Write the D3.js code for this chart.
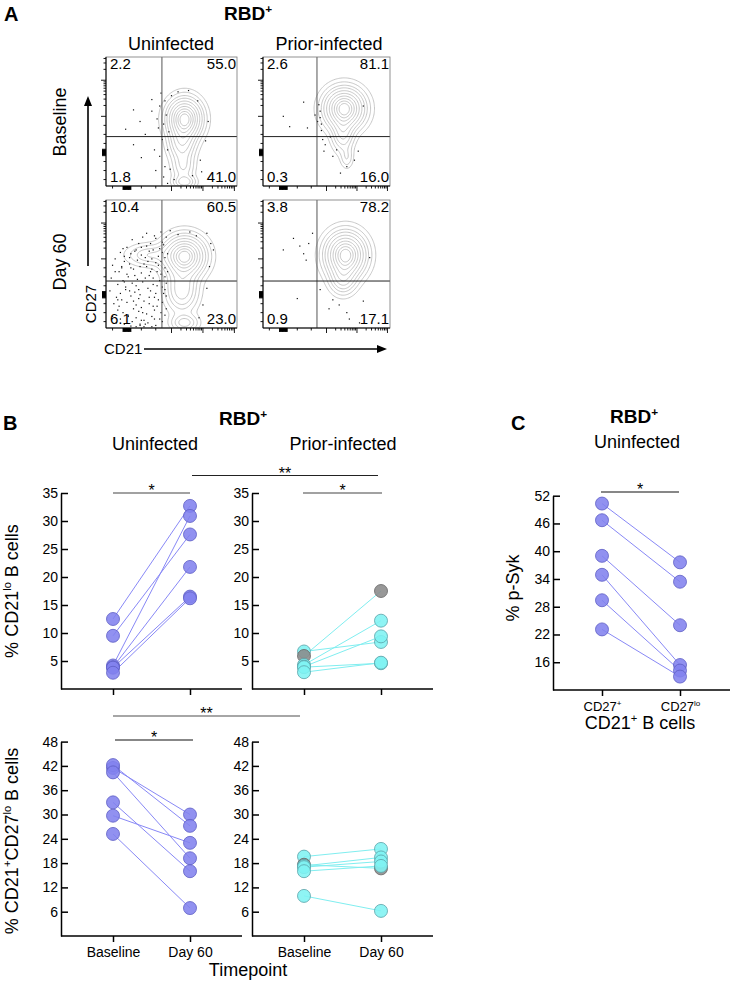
<!DOCTYPE html>
<html><head><meta charset="utf-8">
<script src="https://cdn.jsdelivr.net/npm/d3@7"></script>
<style>body{margin:0;background:#fff}</style>
</head><body><svg id="c" width="731" height="981"></svg>
<script>
// ---------------- DATA ----------------
const timepoints = ["Baseline", "Day 60"];
const subsets = ["CD27+", "CD27lo"];

// Panel B, top row: % CD21lo B cells
const uninfCD21loBase = [12.5, 9.5, 4.2, 3.9, 3.8, 2.9];
const uninfCD21loD60  = [32.7, 27.6, 30.9, 21.8, 16.5, 16.2];
const priorCD21loBase = [6.7, 5.9, 4.3, 4.0, 3.9, 3.0];
const priorCD21loD60  = [8.4, 17.5, 12.2, 9.4, 4.6, 4.7];
const priorCD21loGray = [false, true, false, false, false, false];

// Panel B, bottom row: % CD21+CD27lo B cells
const uninfCD27loBase = [41.5, 42.2, 40.4, 33.0, 29.7, 25.2];
const uninfCD27loD60  = [30.0, 27.2, 19.2, 16.0, 23.0, 6.9];
const priorCD27loBase = [19.6, 17.6, 17.3, 17.0, 16.0, 9.9];
const priorCD27loD60  = [21.5, 16.7, 19.4, 18.4, 17.3, 6.2];
const priorCD27loGray = [false, true, false, false, false, false];

// Panel C: % p-Syk
const pSykCD27pos = [50.3, 46.7, 39.0, 34.9, 29.4, 23.1];
const pSykCD27lo  = [37.6, 33.4, 24.0, 15.4, 14.2, 12.9];

// Tick values
const ticksCD21lo = [5, 10, 15, 20, 25, 30, 35];
const ticksCD27lo = [6, 12, 18, 24, 30, 36, 42, 48];
const ticksPSyk   = [16, 22, 28, 34, 40, 46, 52];

// Panel A: quadrant percentages [UL, UR, LL, LR]
const quadUninfBase  = ["2.2", "55.0", "1.8", "41.0"];
const quadPriorBase  = ["2.6", "81.1", "0.3", "16.0"];
const quadUninfD60   = ["10.4", "60.5", "6.1", "23.0"];
const quadPriorD60   = ["3.8", "78.2", "0.9", "17.1"];

// Panel A: density components [cx, cy, sx, sy, weight] (fractions of plot)
const densUninfBase = [[0.60,0.52,0.075,0.09,1.0],[0.58,0.33,0.06,0.08,0.35],[0.59,0.15,0.05,0.07,0.2],[0.60,0.03,0.05,0.03,0.25]];
const densPriorBase = [[0.64,0.60,0.09,0.09,1.0],[0.63,0.40,0.05,0.08,0.3],[0.66,0.22,0.03,0.05,0.12]];
const densUninfD60  = [[0.60,0.56,0.09,0.09,1.0],[0.33,0.57,0.10,0.05,0.2],[0.58,0.30,0.07,0.10,0.4],[0.60,0.04,0.06,0.04,0.25]];
const densPriorD60  = [[0.65,0.57,0.09,0.10,1.0],[0.63,0.38,0.06,0.07,0.3]];
const contourLevels = [0.03,0.07,0.13,0.2,0.3,0.42,0.55,0.68,0.8,0.9];

// Panel A: outlying events [x, y] (fractions of plot)
const dotsUninfBase = [[0.21,0.59],[0.26,0.50],[0.35,0.58],[0.39,0.52],[0.41,0.62],[0.40,0.45],[0.21,0.32],[0.27,0.22],[0.37,0.28],[0.41,0.23],[0.44,0.07],[0.45,0.15],[0.49,0.13],[0.55,0.73],[0.63,0.74],[0.78,0.50],[0.72,0.20],[0.73,0.11],[0.43,0.36],[0.47,0.28],[0.35,0.67],[0.45,0.66],[0.30,0.40],[0.46,0.55],[0.44,0.48],[0.48,0.42],[0.70,0.66],[0.76,0.35],[0.52,0.05],[0.47,0.02],[0.66,0.08],[0.38,0.12],[0.15,0.44],[0.42,0.72],[0.50,0.70]];
const dotsPriorBase = [[0.16,0.54],[0.21,0.46],[0.32,0.65],[0.35,0.45],[0.41,0.55],[0.44,0.63],[0.45,0.58],[0.45,0.53],[0.46,0.48],[0.46,0.43],[0.47,0.36],[0.49,0.32],[0.55,0.23],[0.61,0.10],[0.72,0.20],[0.79,0.62],[0.58,0.28],[0.53,0.38],[0.75,0.27],[0.48,0.27],[0.43,0.50],[0.66,0.15]];
const dotsUninfD60 = [[0.31,0.74],[0.38,0.70],[0.42,0.75],[0.49,0.76],[0.55,0.73],[0.64,0.75],[0.69,0.72],[0.77,0.74],
[0.20,0.69],[0.28,0.71],[0.34,0.66],[0.37,0.72],[0.43,0.67],[0.46,0.71],[0.80,0.66],[0.25,0.66],
[0.16,0.63],[0.23,0.61],[0.31,0.64],[0.33,0.60],[0.41,0.62],[0.44,0.65],[0.82,0.61],[0.27,0.63],
[0.11,0.59],[0.14,0.56],[0.22,0.60],[0.27,0.57],[0.30,0.55],[0.36,0.61],[0.43,0.59],[0.47,0.58],
[0.07,0.54],[0.14,0.52],[0.18,0.55],[0.24,0.53],[0.29,0.50],[0.35,0.54],[0.38,0.51],[0.45,0.55],
[0.05,0.49],[0.12,0.47],[0.18,0.50],[0.21,0.46],[0.31,0.48],[0.35,0.46],[0.40,0.49],[0.45,0.47],[0.79,0.48],
[0.10,0.44],[0.16,0.42],[0.19,0.47],[0.27,0.43],[0.33,0.41],[0.39,0.44],[0.42,0.42],[0.47,0.44],
[0.04,0.39],[0.13,0.37],[0.17,0.40],[0.24,0.38],[0.28,0.36],[0.36,0.39],[0.41,0.37],[0.45,0.40],
[0.09,0.34],[0.15,0.32],[0.20,0.35],[0.23,0.33],[0.32,0.31],[0.36,0.34],[0.43,0.32],[0.46,0.35],
[0.03,0.29],[0.11,0.27],[0.15,0.30],[0.22,0.28],[0.26,0.26],[0.34,0.29],[0.38,0.27],[0.45,0.30],[0.77,0.31],
[0.08,0.24],[0.12,0.22],[0.19,0.25],[0.25,0.23],[0.29,0.21],[0.37,0.24],[0.40,0.22],[0.46,0.25],
[0.06,0.19],[0.10,0.17],[0.16,0.20],[0.23,0.18],[0.27,0.16],[0.33,0.19],[0.39,0.17],[0.43,0.20],[0.74,0.18],
[0.09,0.14],[0.13,0.12],[0.21,0.15],[0.25,0.13],[0.31,0.11],[0.37,0.14],[0.42,0.12],[0.46,0.15],
[0.05,0.09],[0.11,0.07],[0.17,0.10],[0.23,0.08],[0.29,0.06],[0.35,0.09],[0.41,0.07],[0.45,0.10],[0.71,0.08],
[0.08,0.04],[0.14,0.03],[0.20,0.05],[0.26,0.03],[0.32,0.04],[0.38,0.02],[0.43,0.05],
[0.19,0.015],[0.23,0.01],[0.26,0.02],[0.29,0.01],[0.30,0.03],[0.35,0.01],
[0.13,0.62],[0.19,0.58],[0.26,0.48],[0.22,0.41],[0.30,0.39],[0.14,0.36],[0.33,0.24],[0.18,0.29],
[0.28,0.12],[0.21,0.21],[0.36,0.17],[0.12,0.48],[0.40,0.56],[0.32,0.52],[0.07,0.44],[0.44,0.27],
[0.39,0.33],[0.25,0.30],[0.17,0.09],[0.34,0.44],[0.09,0.22],[0.42,0.52],[0.27,0.06],[0.37,0.07]];
const dotsPriorD60 = [[0.24,0.70],[0.39,0.74],[0.16,0.61],[0.32,0.58],[0.34,0.53],[0.29,0.64],[0.27,0.23],[0.55,0.22],[0.66,0.12],[0.68,0.07],[0.79,0.21],[0.76,0.04],[0.52,0.15],[0.60,0.18],[0.45,0.30],[0.84,0.55],[0.36,0.66]];

// Flow axis tick layout (fractions along the axis)
const flowYZero = 0.26, flowYDecades = [0.54, 0.82], flowYDecadeW = 0.28;
const flowXZero = 0.16, flowXDecades = [0.50, 0.74, 0.98], flowXDecadeW = 0.24;

// ---------------- DRAWING ----------------
const FONT = "'Liberation Sans', Arial, Helvetica, sans-serif";
const svg = d3.select("#c");
svg.append("rect").attr("width", 731).attr("height", 981).attr("fill", "#fff");

function richText(parent, x, y, parts, size, opts = {}) {
  const t = parent.append("text")
    .attr("font-family", FONT).attr("font-size", size)
    .attr("text-anchor", opts.anchor || "start")
    .attr("font-weight", opts.weight || "normal")
    .attr("fill", opts.fill || "#000");
  if (opts.rotate) t.attr("transform", `translate(${x},${y}) rotate(${opts.rotate})`);
  else t.attr("x", x).attr("y", y);
  let shifted = 0;
  parts.forEach(p => {
    const part = typeof p === "string" ? { t: p } : p;
    const s = part.sup ? size * 0.62 : size;
    const target = part.sup ? -size * 0.38 : 0;
    const ts = t.append("tspan").text(part.t).attr("font-size", s);
    if (target !== shifted) { ts.attr("dy", target - shifted); shifted = target; }
  });
  return t;
}

// ---------- Panel A ----------
richText(svg, 4, 21, ["A"], 20, { weight: "bold" });
richText(svg, 248, 20, ["RBD", { t: "+", sup: true }], 19, { weight: "bold", anchor: "middle" });
richText(svg, 171, 50, ["Uninfected"], 18, { anchor: "middle" });
richText(svg, 329, 50, ["Prior-infected"], 18, { anchor: "middle" });
richText(svg, 66, 122, ["Baseline"], 18, { anchor: "middle", rotate: -90 });
richText(svg, 66, 262, ["Day 60"], 18, { anchor: "middle", rotate: -90 });
richText(svg, 96, 304, ["CD27"], 15, { anchor: "middle", rotate: -90 });
richText(svg, 104, 354, ["CD21"], 15, {});

// arrows
svg.append("line").attr("x1", 88).attr("y1", 266).attr("x2", 88).attr("y2", 104).attr("stroke", "#000").attr("stroke-width", 1.6);
svg.append("path").attr("d", d3.line()([[88, 96], [84, 106], [92, 106]]) + "Z").attr("fill", "#000");
svg.append("line").attr("x1", 144).attr("y1", 349).attr("x2", 378).attr("y2", 349).attr("stroke", "#000").attr("stroke-width", 1.6);
svg.append("path").attr("d", d3.line()([[387, 349], [377, 345], [377, 353]]) + "Z").attr("fill", "#000");

function yTickList() {
  const l = [];
  [-0.05, -0.035, -0.02, -0.01, 0, 0.01, 0.02, 0.035, 0.05].forEach(d => l.push({ f: flowYZero + d * 0.5, len: 4 }));
  [0.05, 0.12, 0.19, 0.33, 0.40, 0.47].forEach(f => l.push({ f, len: 2.5 }));
  flowYDecades.forEach(d => {
    l.push({ f: d, len: 5 });
    for (let k = 2; k <= 9; k++) { const f = d + flowYDecadeW * Math.log10(k); if (f <= 1) l.push({ f, len: 2.5 }); }
  });
  return l;
}
function xTickList() {
  const l = [];
  [-0.05, -0.04, -0.03, -0.02, -0.01, 0, 0.01, 0.02, 0.03, 0.04, 0.05].forEach(d => l.push({ f: flowXZero + d * 0.6, len: 4 }));
  [0.05, 0.27, 0.38].forEach(f => l.push({ f, len: 2.5 }));
  flowXDecades.forEach(d => {
    l.push({ f: d, len: 5 });
    for (let k = 2; k <= 9; k++) { const f = d + flowXDecadeW * Math.log10(k); if (f <= 1) l.push({ f, len: 2.5 }); }
  });
  return l;
}

let clipN = 0;
function flowPlot(box, gate, quads, dens, dots) {
  const [x0, y0, x1, y1] = box;
  const w = x1 - x0, h = y1 - y0;
  const fx = d3.scaleLinear([0, 1], [x0, x1]);
  const fy = d3.scaleLinear([0, 1], [y1, y0]);
  const g = svg.append("g");
  const id = "clip" + (clipN++);
  g.append("clipPath").attr("id", id).append("rect").attr("x", x0).attr("y", y0).attr("width", w).attr("height", h);
  // density contours
  const n = 110, m = 110;
  const vals = new Array(n * m);
  for (let j = 0; j < m; j++) for (let i = 0; i < n; i++) {
    const X = (i + 0.5) / n, Y = 1 - (j + 0.5) / m;
    let v = 0;
    dens.forEach(c => { v += c[4] * Math.exp(-((X - c[0]) ** 2 / (2 * c[2] ** 2) + (Y - c[1]) ** 2 / (2 * c[3] ** 2))); });
    vals[j * n + i] = v;
  }
  const mx = d3.max(vals);
  const cs = d3.contours().size([n, m]).thresholds(contourLevels.map(l => l * mx))(vals);
  const proj = d3.geoTransform({ point(px, py) { this.stream.point(x0 + px * w / n, y0 + py * h / m); } });
  const inner = g.append("g").attr("clip-path", `url(#${id})`);
  inner.selectAll("path.ct").data(cs).join("path").attr("class", "ct")
    .attr("d", d3.geoPath(proj)).attr("fill", "none").attr("stroke", "#b4b4b4").attr("stroke-width", 0.75);
  inner.selectAll("rect.dot").data(dots).join("rect").attr("class", "dot")
    .attr("x", d => fx(d[0]) - 0.6).attr("y", d => fy(d[1]) - 0.6).attr("width", 1.2).attr("height", 1.2).attr("fill", "#111");
  // gates
  g.append("line").attr("x1", fx(gate[0])).attr("x2", fx(gate[0])).attr("y1", y0).attr("y2", y1).attr("stroke", "#555").attr("stroke-width", 1);
  g.append("line").attr("x1", x0).attr("x2", x1).attr("y1", fy(gate[1])).attr("y2", fy(gate[1])).attr("stroke", "#222").attr("stroke-width", 1);
  // frame
  g.append("rect").attr("x", x0).attr("y", y0).attr("width", w).attr("height", h).attr("fill", "none").attr("stroke", "#777").attr("stroke-width", 0.8);
  g.append("line").attr("x1", x0).attr("x2", x0).attr("y1", y0).attr("y2", y1).attr("stroke", "#000").attr("stroke-width", 1);
  g.append("line").attr("x1", x0).attr("x2", x1).attr("y1", y1).attr("y2", y1).attr("stroke", "#000").attr("stroke-width", 1);
  // ticks
  g.selectAll("line.yt").data(yTickList()).join("line").attr("class", "yt")
    .attr("x1", x0).attr("x2", d => x0 - d.len).attr("y1", d => fy(d.f)).attr("y2", d => fy(d.f)).attr("stroke", "#000").attr("stroke-width", 0.9);
  g.selectAll("line.xt").data(xTickList()).join("line").attr("class", "xt")
    .attr("y1", y1).attr("y2", d => y1 + d.len).attr("x1", d => fx(d.f)).attr("x2", d => fx(d.f)).attr("stroke", "#000").attr("stroke-width", 0.9);
  // dense zero clusters on axes
  g.append("rect").attr("x", x0 - 4).attr("y", fy(flowYZero) - 3).attr("width", 4).attr("height", 6).attr("fill", "#000");
  g.append("rect").attr("x", fx(flowXZero) - 4).attr("y", y1).attr("width", 8).attr("height", 3.5).attr("fill", "#000");
  // quadrant numbers
  richText(g, x0 + 4, y0 + 12, [quads[0]], 15, {});
  richText(g, x1 - 1, y0 + 12, [quads[1]], 15, { anchor: "end" });
  richText(g, x0 + 4, y1 - 4, [quads[2]], 15, {});
  richText(g, x1 - 1, y1 - 4, [quads[3]], 15, { anchor: "end" });
}

flowPlot([106, 57, 237, 186], [0.427, 0.383], quadUninfBase, densUninfBase, dotsUninfBase);
flowPlot([263, 57, 390, 186], [0.425, 0.383], quadPriorBase, densPriorBase, dotsPriorBase);
flowPlot([106, 200, 237, 328], [0.427, 0.367], quadUninfD60, densUninfD60, dotsUninfD60);
flowPlot([263, 200, 390, 328], [0.425, 0.367], quadPriorD60, densPriorD60, dotsPriorD60);

// ---------- Panel B & C ----------
const PURPLE = { fill: "#8282ee", stroke: "#5e5ec4", line: "#8888f6" };
const CYAN = { fill: "#80f2f2", stroke: "#5aa2a8", line: "#80eef0" };
const GRAY = { fill: "#8a8a8a", stroke: "#666" };

function pairedPlot(cfg) {
  const { ax, axRight, y, ticks, cats, xs, base, d60, gray, col, xLabels } = cfg;
  const g = svg.append("g");
  const x = d3.scalePoint().domain(cats).range(xs);
  const yBottom = y.range()[0];
  const ya = g.append("g").attr("transform", `translate(${ax},0)`)
    .call(d3.axisLeft(y).tickValues(ticks).tickSizeInner(-7).tickSizeOuter(0).tickPadding(3));
  ya.select(".domain").attr("stroke-width", 1.5);
  ya.selectAll(".tick line").attr("stroke-width", 1.5);
  ya.selectAll("text").attr("font-family", FONT).attr("font-size", 14).attr("fill", "#000");
  g.append("line").attr("x1", ax).attr("x2", axRight).attr("y1", yBottom).attr("y2", yBottom).attr("stroke", "#000").attr("stroke-width", 1.5);
  const xa = g.append("g").attr("transform", `translate(0,${yBottom})`)
    .call(d3.axisBottom(x).tickSize(6).tickPadding(9));
  xa.select(".domain").remove();
  xa.selectAll(".tick line").attr("stroke-width", 1.5);
  xa.selectAll(".tick text").remove();
  if (xLabels) {
    xa.selectAll(".tick").each(function (d, i) {
      richText(d3.select(this), 0, 21, xLabels[i], xLabels.size || 14, { anchor: "middle" });
    });
  }
  g.selectAll("line.pair").data(base.map((b, i) => [b, d60[i]])).join("line").attr("class", "pair")
    .attr("x1", x(cats[0])).attr("x2", x(cats[1]))
    .attr("y1", d => y(d[0])).attr("y2", d => y(d[1]))
    .attr("stroke", col.line).attr("stroke-width", 1);
  const pts = [];
  base.forEach((v, i) => pts.push({ cx: x(cats[0]), v, gray: gray && gray[i] }));
  d60.forEach((v, i) => pts.push({ cx: x(cats[1]), v, gray: gray && gray[i] }));
  g.selectAll("circle").data(pts).join("circle")
    .attr("cx", d => d.cx).attr("cy", d => y(d.v)).attr("r", 6.5)
    .attr("fill", d => d.gray ? GRAY.fill : col.fill)
    .attr("fill-opacity", 0.88)
    .attr("stroke", d => d.gray ? GRAY.stroke : col.stroke).attr("stroke-width", 0.8);
  return g;
}

const yTop = d3.scaleLinear([0, 35], [689, 493]);
const yBot = d3.scaleLinear([0, 48], [936, 741.6]);
const yC = d3.scaleLinear([10, 52], [690, 495.7]);

pairedPlot({ ax: 61, axRight: 242, y: yTop, ticks: ticksCD21lo, cats: timepoints, xs: [113, 190], base: uninfCD21loBase, d60: uninfCD21loD60, col: PURPLE });
pairedPlot({ ax: 252, axRight: 433, y: yTop, ticks: ticksCD21lo, cats: timepoints, xs: [304, 381], base: priorCD21loBase, d60: priorCD21loD60, gray: priorCD21loGray, col: CYAN });
pairedPlot({ ax: 61, axRight: 242, y: yBot, ticks: ticksCD27lo, cats: timepoints, xs: [113, 190], base: uninfCD27loBase, d60: uninfCD27loD60, col: PURPLE, xLabels: [["Baseline"], ["Day 60"]] });
pairedPlot({ ax: 252, axRight: 433, y: yBot, ticks: ticksCD27lo, cats: timepoints, xs: [304, 381], base: priorCD27loBase, d60: priorCD27loD60, gray: priorCD27loGray, col: CYAN, xLabels: [["Baseline"], ["Day 60"]] });
const cLabels = [["CD27", { t: "+", sup: true }], ["CD27", { t: "lo", sup: true }]];
cLabels.size = 13;
pairedPlot({ ax: 553, axRight: 730, y: yC, ticks: ticksPSyk, cats: subsets, xs: [602, 680], base: pSykCD27pos, d60: pSykCD27lo, col: PURPLE, xLabels: cLabels });

// titles B
richText(svg, 3, 430, ["B"], 20, { weight: "bold" });
richText(svg, 243, 425, ["RBD", { t: "+", sup: true }], 19, { weight: "bold", anchor: "middle" });
richText(svg, 155, 450, ["Uninfected"], 18, { anchor: "middle" });
richText(svg, 343, 450, ["Prior-infected"], 18, { anchor: "middle" });
richText(svg, 18, 591, ["% CD21", { t: "lo", sup: true }, " B cells"], 18, { anchor: "middle", rotate: -90 });
richText(svg, 18, 841, ["% CD21", { t: "+", sup: true }, "CD27", { t: "lo", sup: true }, " B cells"], 18, { anchor: "middle", rotate: -90 });
richText(svg, 248, 976, ["Timepoint"], 18, { anchor: "middle" });

// titles C
richText(svg, 511, 430, ["C"], 20, { weight: "bold" });
richText(svg, 634, 423, ["RBD", { t: "+", sup: true }], 19, { weight: "bold", anchor: "middle" });
richText(svg, 637, 448, ["Uninfected"], 18, { anchor: "middle" });
richText(svg, 519, 588, ["% p-Syk"], 18, { anchor: "middle", rotate: -90 });
richText(svg, 640, 729, ["CD21", { t: "+", sup: true }, " B cells"], 18, { anchor: "middle" });

// significance bars
function sig(x1, x2, y, label, color, width) {
  svg.append("line").attr("x1", x1).attr("x2", x2).attr("y1", y).attr("y2", y).attr("stroke", color).attr("stroke-width", width);
  richText(svg, (x1 + x2) / 2, y + 3, [label], 16, { anchor: "middle" });
}
sig(192, 378, 475.5, "**", "#222", 1.2);
sig(113, 190, 493, "*", "#444", 1.2);
sig(303, 382, 493, "*", "#444", 1.2);
sig(113, 300, 716, "**", "#888", 1.6);
sig(115, 193, 740, "*", "#111", 1.2);
sig(601, 679, 492, "*", "#111", 1.2);
</script></body></html>
